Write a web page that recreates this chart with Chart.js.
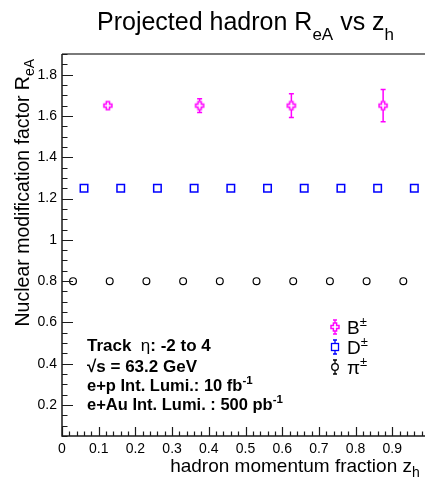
<!DOCTYPE html>
<html><head><meta charset="utf-8">
<script src="https://cdn.jsdelivr.net/npm/chart.js@4/dist/chart.umd.min.js"></script>
<style>
html,body{margin:0;padding:0;overflow:hidden;background:#fff;width:425px;height:482px}
#wrap{position:relative;width:440px;height:482px}
</style>
</head><body><div id="wrap"><canvas id="c" width="440" height="482"></canvas></div>
<script>
// ---- data ----
const piZ = [0.03, 0.13, 0.23, 0.33, 0.43, 0.53, 0.63, 0.73, 0.83, 0.93];
const piR = [0.80, 0.80, 0.80, 0.80, 0.80, 0.80, 0.80, 0.80, 0.80, 0.80];
const dZ  = [0.06, 0.16, 0.26, 0.36, 0.46, 0.56, 0.66, 0.76, 0.86, 0.96];
const dR  = [1.25, 1.25, 1.25, 1.25, 1.25, 1.25, 1.25, 1.25, 1.25, 1.25];
const bZ  = [0.125, 0.375, 0.625, 0.875];
const bR  = [1.65, 1.65, 1.65, 1.65];
const bErr = [0.012, 0.033, 0.058, 0.078];
const xTicks = [0, 0.1, 0.2, 0.3, 0.4, 0.5, 0.6, 0.7, 0.8, 0.9, 1.0];
const yTicks = [0.2, 0.4, 0.6, 0.8, 1.0, 1.2, 1.4, 1.6, 1.8];
const xLabels = ["0", "0.1", "0.2", "0.3", "0.4", "0.5", "0.6", "0.7", "0.8", "0.9", "1"];
const yLabels = ["0.2", "0.4", "0.6", "0.8", "1", "1.2", "1.4", "1.6", "1.8"];

const FONT = "'Liberation Sans', Arial, sans-serif";
const MAG = '#ff00ff', BLUE = '#0000ff', BLK = '#000000';

function openCross(color, size, lw) {
  const c = document.createElement('canvas');
  const S = size + 4;
  c.width = S; c.height = S;
  const g = c.getContext('2d');
  const h = size / 2, t = size * 0.2, cx = S / 2, cy = S / 2;
  g.strokeStyle = color; g.lineWidth = lw;
  g.beginPath();
  g.moveTo(cx - t, cy - h); g.lineTo(cx + t, cy - h); g.lineTo(cx + t, cy - t);
  g.lineTo(cx + h, cy - t); g.lineTo(cx + h, cy + t); g.lineTo(cx + t, cy + t);
  g.lineTo(cx + t, cy + h); g.lineTo(cx - t, cy + h); g.lineTo(cx - t, cy + t);
  g.lineTo(cx - h, cy + t); g.lineTo(cx - h, cy - t); g.lineTo(cx - t, cy - t);
  g.closePath(); g.stroke();
  return c;
}
const crossImg = openCross(MAG, 8, 1.5);

function pts(xs, ys) { return xs.map((x, i) => ({ x: x, y: ys[i] })); }

function rich(ctx, segs, x, y) {
  let cx = x;
  segs.forEach(s => {
    ctx.font = (s.bold ? 'bold ' : '') + s.size + 'px ' + (s.family || FONT);
    ctx.fillText(s.t, cx, y + (s.dy || 0));
    cx += ctx.measureText(s.t).width;
  });
  return cx - x;
}
function richWidth(ctx, segs) {
  let w = 0;
  segs.forEach(s => {
    ctx.font = (s.bold ? 'bold ' : '') + s.size + 'px ' + (s.family || FONT);
    w += ctx.measureText(s.t).width;
  });
  return w;
}

const errPlugin = {
  id: 'errbars',
  beforeDatasetsDraw(chart) {
    const ctx = chart.ctx, xs = chart.scales.x, ys = chart.scales.y;
    ctx.save();
    ctx.strokeStyle = MAG; ctx.lineWidth = 1.5;
    bZ.forEach((z, i) => {
      const px = xs.getPixelForValue(z);
      const yc = ys.getPixelForValue(bR[i]);
      const yt = ys.getPixelForValue(bR[i] + bErr[i]);
      const yb = ys.getPixelForValue(bR[i] - bErr[i]);
      ctx.beginPath();
      if (yc - yt > 4.5) { ctx.moveTo(px, yc - 4.5); ctx.lineTo(px, yt); ctx.moveTo(px - 2.5, yt); ctx.lineTo(px + 2.5, yt); }
      if (yb - yc > 4.5) { ctx.moveTo(px, yc + 4.5); ctx.lineTo(px, yb); ctx.moveTo(px - 2.5, yb); ctx.lineTo(px + 2.5, yb); }
      ctx.stroke();
    });
    ctx.restore();
  }
};

const decoPlugin = {
  id: 'deco',
  afterDraw(chart) {
    const ctx = chart.ctx, xs = chart.scales.x, ys = chart.scales.y, a = chart.chartArea;
    ctx.save();
    ctx.strokeStyle = '#7a7a7a'; ctx.lineWidth = 2;
    ctx.beginPath(); ctx.moveTo(a.left, a.top); ctx.lineTo(a.right + 5, a.top); ctx.stroke();
    ctx.strokeStyle = '#1a1a1a'; ctx.lineWidth = 1.5;
    ctx.beginPath(); ctx.moveTo(a.left, a.top); ctx.lineTo(a.left, a.bottom); ctx.lineTo(a.right + 5, a.bottom); ctx.stroke();
    ctx.lineWidth = 1.2;
    ctx.beginPath();
    for (let v = 0.05; v <= 1.9001; v += 0.05) {
      const py = Math.round(ys.getPixelForValue(v)) + 0.5;
      const major = yTicks.some(t => Math.abs(t - v) < 1e-6);
      ctx.moveTo(a.left, py); ctx.lineTo(a.left + (major ? 11 : 5.5), py);
    }
    for (let v = 0; v <= 1.0001; v += 0.02) {
      const px = Math.round(xs.getPixelForValue(v)) + 0.5;
      const major = xTicks.some(t => Math.abs(t - v) < 1e-6);
      ctx.moveTo(px, a.bottom); ctx.lineTo(px, a.bottom - (major ? 9 : 4.5));
    }
    ctx.stroke();

    ctx.fillStyle = '#000'; ctx.textBaseline = 'alphabetic';
    const tSegs = [{ t: 'Projected hadron R', size: 25 }, { t: 'eA', size: 17, dy: 10 },
                   { t: ' vs z', size: 25 }, { t: 'h', size: 17, dy: 10 }];
    rich(ctx, tSegs, 97, 30);

    const xMain = [{ t: 'hadron momentum fraction z', size: 19 }];
    const xw = richWidth(ctx, xMain);
    rich(ctx, xMain.concat([{ t: 'h', size: 14, dy: 5 }]), 412 - xw, 472);

    const ySegs = [{ t: 'Nuclear modification factor R', size: 19.5 }, { t: 'eA', size: 14, dy: 5 }];
    const yw = richWidth(ctx, ySegs);
    ctx.save();
    ctx.translate(29, 59 + yw);
    ctx.rotate(-Math.PI / 2);
    rich(ctx, ySegs, 0, 0);
    ctx.restore();

    rich(ctx, [{ t: 'Track  ', size: 17, bold: true }, { t: 'η', size: 17 }, { t: ': -2 to 4', size: 17, bold: true }], 87, 351);
    rich(ctx, [{ t: '√s = 63.2 GeV', size: 17, bold: true }], 87, 372);
    rich(ctx, [{ t: 'e+p Int. Lumi.: 10 fb', size: 16.5, bold: true }, { t: '-1', size: 11.5, bold: true, dy: -7 }], 87, 391);
    rich(ctx, [{ t: 'e+Au Int. Lumi. : 500 pb', size: 16.5, bold: true }, { t: '-1', size: 11.5, bold: true, dy: -7 }], 87, 410);

    const lx = 335;
    const items = [
      { y: 327, color: MAG, kind: 'cross', lbl: 'B' },
      { y: 347, color: BLUE, kind: 'rect', lbl: 'D' },
      { y: 367, color: BLK, kind: 'circle', lbl: 'π' }
    ];
    items.forEach(it => {
      ctx.strokeStyle = it.color; ctx.lineWidth = 1.3;
      ctx.beginPath();
      ctx.moveTo(lx, it.y - 4); ctx.lineTo(lx, it.y - 7); ctx.moveTo(lx - 2, it.y - 7); ctx.lineTo(lx + 2, it.y - 7);
      ctx.moveTo(lx, it.y + 4); ctx.lineTo(lx, it.y + 7); ctx.moveTo(lx - 2, it.y + 7); ctx.lineTo(lx + 2, it.y + 7);
      ctx.stroke();
      if (it.kind === 'cross') ctx.drawImage(crossImg, lx - crossImg.width / 2, it.y - crossImg.height / 2);
      else if (it.kind === 'rect') { ctx.strokeRect(lx - 3.5, it.y - 3.5, 7, 7); }
      else { ctx.beginPath(); ctx.arc(lx, it.y, 3.3, 0, Math.PI * 2); ctx.stroke(); }
      ctx.fillStyle = '#000';
      rich(ctx, [{ t: it.lbl, size: 19 }, { t: '±', size: 13, dy: -8 }], 347, it.y + 7);
    });
    ctx.restore();
  }
};

new Chart(document.getElementById('c'), {
  type: 'scatter',
  data: {
    datasets: [
      { label: 'B', data: pts(bZ, bR), pointStyle: crossImg, pointRadius: 5, borderColor: MAG, backgroundColor: 'rgba(0,0,0,0)' },
      { label: 'D', data: pts(dZ, dR), pointStyle: 'rect', pointRadius: 5.3, borderWidth: 1.5, borderColor: BLUE, backgroundColor: 'rgba(0,0,0,0)' },
      { label: 'pi', data: pts(piZ, piR), pointStyle: 'circle', pointRadius: 3.4, borderWidth: 1.2, borderColor: BLK, backgroundColor: 'rgba(0,0,0,0)' }
    ]
  },
  options: {
    responsive: false, animation: false, devicePixelRatio: 1,
    layout: { padding: { top: 54, right: 11, left: 0, bottom: 0 } },
    plugins: { legend: { display: false }, tooltip: { enabled: false }, title: { display: false } },
    scales: {
      x: {
        type: 'linear', min: 0, max: 1,
        afterBuildTicks: s => { s.ticks = xTicks.map(v => ({ value: v })); },
        afterFit: s => { s.height = 46; },
        grid: { display: false, drawTicks: false },
        border: { display: false },
        ticks: { autoSkip: false, maxRotation: 0, padding: 5, color: '#000', font: { family: FONT, size: 14 },
                 callback: (v, i) => xLabels[i] }
      },
      y: {
        type: 'linear', min: 0.05, max: 1.9,
        afterBuildTicks: s => { s.ticks = yTicks.map(v => ({ value: v })); },
        afterFit: s => { s.width = 62; },
        grid: { display: false, drawTicks: false },
        border: { display: false },
        ticks: { autoSkip: false, padding: 5, color: '#000', font: { family: FONT, size: 14 },
                 callback: (v, i) => yLabels[i] }
      }
    }
  },
  plugins: [errPlugin, decoPlugin]
});
</script>
</body></html>
